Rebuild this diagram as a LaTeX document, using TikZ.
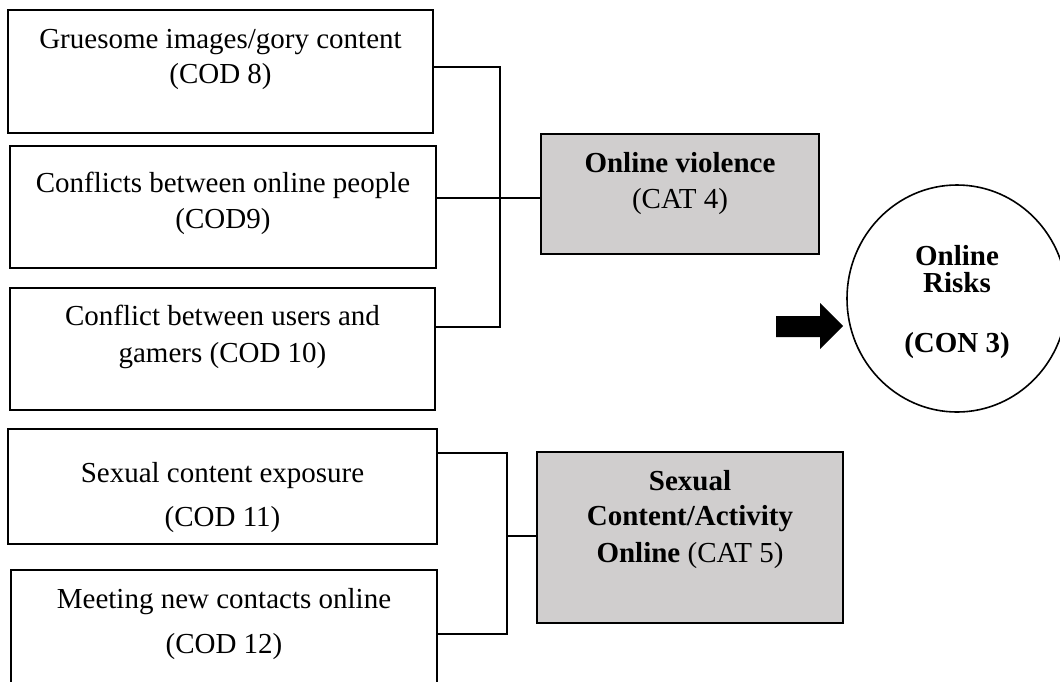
\documentclass[tikz,border=0pt]{standalone}
\usepackage{fontspec}
\setmainfont{Liberation Serif}
\usetikzlibrary{shapes.geometric}
\definecolor{greyfill}{RGB}{208,206,206}
\tikzset{
  box/.style={draw=black, line width=1.2pt, rectangle, inner sep=0pt},
  gbox/.style={box, fill=greyfill},
  txt/.style={anchor=base, inner sep=0pt, font=\fontsize{29}{34}\selectfont},
  btxt/.style={txt, font=\fontsize{29}{34}\selectfont\bfseries},
  conn/.style={line width=1.2pt, draw=black}
}
\begin{document}
\begin{tikzpicture}[x=1pt,y=-1pt]
\useasboundingbox (0,0) rectangle (1060,681);
% left boxes
\node[box, minimum width=425pt, minimum height=123pt] (b1) at (220.5,71.5) {};
\node[box, minimum width=426pt, minimum height=122pt] (b2) at (223,207) {};
\node[box, minimum width=425pt, minimum height=122pt] (b3) at (222.5,349) {};
\node[box, minimum width=429pt, minimum height=115pt] (b4) at (222.5,486.5) {};
\node[box, minimum width=426pt, minimum height=130pt] (b5) at (224,635) {};
% grey boxes
\node[gbox, minimum width=278pt, minimum height=120pt] (g1) at (680,194) {};
\node[gbox, minimum width=306pt, minimum height=171pt] (g2) at (690,537.5) {};
% texts
\node[txt] (t1a) at (220.5,48) {Gruesome images/gory content};
\node[txt] (t1b) at (220.5,83) {(COD 8)};
\node[txt] (t2a) at (223,192) {Conflicts between online people};
\node[txt] (t2b) at (223,228) {(COD9)};
\node[txt] (t3a) at (222.5,325) {Conflict between users and};
\node[txt] (t3b) at (222.5,362) {gamers (COD 10)};
\node[txt] (t4a) at (222.5,482) {Sexual content exposure};
\node[txt] (t4b) at (222.5,526) {(COD 11)};
\node[txt] (t5a) at (224,608) {Meeting new contacts online};
\node[txt] (t5b) at (224,653) {(COD 12)};
\node[btxt] (g1a) at (680,172) {Online violence};
\node[txt] (g1b) at (680,208) {(CAT 4)};
\node[btxt] (g2a) at (690,490) {Sexual};
\node[btxt] (g2b) at (690,525) {Content/Activity};
\node[txt] (g2c) at (690,562) {\textbf{Online} (CAT 5)};
% circle
\node[draw=black, line width=1.6pt, ellipse, minimum width=220pt, minimum height=227pt, inner sep=0pt] (risk) at (957,298.5) {};
\node[btxt] (r1) at (957,265) {Online};
\node[btxt] (r2) at (957,292) {Risks};
\node[btxt] (r3) at (957,352) {(CON 3)};
% bracket 1
\coordinate (v1t) at (500,67);
\coordinate (v1b) at (500,327);
\coordinate (v1m) at (500,198);
\draw[conn] (b1.east |- v1t) -- (v1t) -- (v1b) -- (b3.east |- v1b);
\draw[conn] (b2.east |- v1m) -- (g1.west |- v1m);
% bracket 2
\coordinate (v2t) at (507,453);
\coordinate (v2b) at (507,634);
\coordinate (v2m) at (507,536);
\draw[conn] (b4.east |- v2t) -- (v2t) -- (v2b) -- (b5.east |- v2b);
\draw[conn] (v2m) -- (g2.west |- v2m);
% block arrow
\coordinate (ar) at (843,326);
\fill[black] (776,316) -- (820,316) -- (820,303) -- (ar) -- (820,349) -- (820,337) -- (776,337) -- cycle;
\end{tikzpicture}
\end{document}
